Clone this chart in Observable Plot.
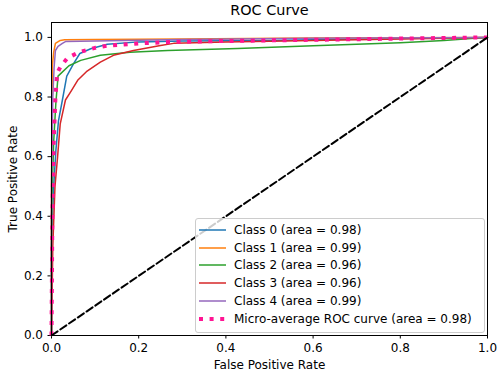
<!DOCTYPE html>
<html>
<head>
<meta charset="utf-8">
<script src="https://cdn.jsdelivr.net/npm/d3@7"></script>
<script src="https://cdn.jsdelivr.net/npm/@observablehq/plot@0.6"></script>
<style>
  html, body { margin: 0; padding: 0; background: #fff; }
  #wrap { position: relative; width: 500px; height: 374px; font-family: "DejaVu Sans", sans-serif; }
  #legend { position: absolute; left: 195px; top: 218px; width: 290px; height: 115px;
    border: 1px solid #cccccc; border-radius: 3px; background: rgba(255,255,255,0.8); box-sizing: border-box; }
  .row { position: absolute; left: 0; height: 16px; display: flex; align-items: center; font-size: 12px; color: #000; white-space: nowrap; }
  .row svg { margin-left: 3px; margin-right: 8px; }
</style>
</head>
<body>
<div id="wrap"></div>
<script>
// ---- data ----
const classNames = ["Class 0", "Class 1", "Class 2", "Class 3", "Class 4"];
const classAreas = [0.98, 0.99, 0.96, 0.96, 0.99];
const classColors = ["#1f77b4", "#ff7f0e", "#2ca02c", "#d62728", "#9467bd"];

const fpr0 = [0, 0, 0.005, 0.01, 0.016, 0.025, 0.035, 0.05, 0.065, 0.09, 0.128, 0.2, 0.3, 0.5, 0.7, 1];
const tpr0 = [0, 0.3, 0.5, 0.62, 0.72, 0.79, 0.87, 0.91, 0.946, 0.962, 0.977, 0.985, 0.988, 0.99, 0.995, 1];

const fpr1 = [0, 0, 0.002, 0.005, 0.009, 0.02, 0.03, 0.1, 0.3, 0.6, 1];
const tpr1 = [0, 0.5, 0.906, 0.95, 0.98, 0.99, 0.992, 0.993, 0.995, 0.998, 1];

const fpr2 = [0, 0, 0.005, 0.01, 0.015, 0.04, 0.067, 0.112, 0.18, 0.266, 0.427, 0.6, 0.8, 0.9, 0.97, 1];
const tpr2 = [0, 0.4, 0.65, 0.78, 0.87, 0.905, 0.923, 0.94, 0.95, 0.956, 0.963, 0.972, 0.982, 0.99, 0.997, 1];

const fpr3 = [0, 0.003, 0.008, 0.014, 0.02, 0.032, 0.045, 0.06, 0.08, 0.112, 0.142, 0.188, 0.25, 0.28, 0.4, 0.6, 0.8, 1];
const tpr3 = [0, 0.3, 0.5, 0.6, 0.71, 0.79, 0.82, 0.856, 0.885, 0.917, 0.94, 0.956, 0.973, 0.98, 0.985, 0.99, 0.995, 1];

const fpr4 = [0, 0, 0.003, 0.006, 0.009, 0.015, 0.025, 0.032, 0.1, 0.3, 0.6, 1];
const tpr4 = [0, 0.5, 0.8, 0.9, 0.956, 0.97, 0.98, 0.986, 0.988, 0.993, 0.997, 1];

const fprMicro = [0, 0.002, 0.005, 0.009, 0.013, 0.02, 0.036, 0.062, 0.1, 0.128, 0.2, 0.28, 0.4, 0.6, 0.8, 1];
const tprMicro = [0, 0.4, 0.65, 0.8, 0.88, 0.9, 0.93, 0.95, 0.965, 0.972, 0.98, 0.985, 0.988, 0.992, 0.996, 1];
const microName = "Micro-average ROC curve";
const microArea = 0.98;

const diagX = [0, 1];
const diagY = [0, 1];

const xTicks = [0, 0.2, 0.4, 0.6, 0.8, 1.0];
const yTicks = [0, 0.2, 0.4, 0.6, 0.8, 1.0];

// ---- build tables ----
const fprs = [fpr0, fpr1, fpr2, fpr3, fpr4];
const tprs = [tpr0, tpr1, tpr2, tpr3, tpr4];
const classRows = [];
classNames.forEach((name, i) => {
  fprs[i].forEach((f, j) => classRows.push({cls: name, fpr: f, tpr: tprs[i][j]}));
});
const microRows = fprMicro.map((f, j) => ({fpr: f, tpr: tprMicro[j]}));
const diagRows = diagX.map((x, j) => ({x, y: diagY[j]}));

const fmt = d3.format(".1f");

const chart = Plot.plot({
  width: 500,
  height: 374,
  marginLeft: 51,
  marginRight: 13,
  marginTop: 22,
  marginBottom: 39,
  style: {fontFamily: "DejaVu Sans, sans-serif", fontSize: "12px", color: "#000", background: "#fff"},
  x: {domain: [0, 1]},
  y: {domain: [0, 1.05]},
  color: {domain: classNames, range: classColors},
  marks: [
    Plot.axisX({ticks: xTicks, tickFormat: fmt, tickSize: 3.5, tickPadding: 4, label: "False Positive Rate",
      labelAnchor: "center", labelArrow: "none", labelOffset: 33, fontSize: 12}),
    Plot.axisY({ticks: yTicks, tickFormat: fmt, tickSize: 3.5, tickPadding: 5, label: "True Positive Rate",
      labelAnchor: "center", labelArrow: "none", labelOffset: 43, fontSize: 12}),
    Plot.line(classRows, {x: "fpr", y: "tpr", z: "cls", stroke: "cls", strokeWidth: 1.5}),
    Plot.line(microRows, {x: "fpr", y: "tpr", stroke: "#ff1493", strokeWidth: 4, strokeDasharray: "4,6.6", strokeLinecap: "butt"}),
    Plot.line(diagRows, {x: "x", y: "y", stroke: "black", strokeWidth: 2, strokeDasharray: "7.4,3.2"}),
    Plot.frame({stroke: "black", strokeWidth: 1}),
    Plot.text(["ROC Curve"], {frameAnchor: "top", lineAnchor: "middle", dy: -12, fontSize: 14.4, fill: "#000"})
  ]
});

const wrap = document.getElementById("wrap");
wrap.appendChild(chart);

// ---- legend ----
const legend = document.createElement("div");
legend.id = "legend";
const items = classNames.map((n, i) => ({label: `${n} (area = ${classAreas[i].toFixed(2)})`, color: classColors[i], micro: false}));
items.push({label: `${microName} (area = ${microArea.toFixed(2)})`, color: "#ff1493", micro: true});
items.forEach((it, i) => {
  const row = document.createElement("div");
  row.className = "row";
  row.style.top = (3 + i * 17.7) + "px";
  const s = d3.create("svg").attr("width", 27).attr("height", 16);
  s.append("line").attr("x1", 0).attr("x2", 27).attr("y1", 8).attr("y2", 8)
    .attr("stroke", it.color)
    .attr("stroke-width", it.micro ? 4 : 1.5)
    .attr("stroke-dasharray", it.micro ? "4,6.6" : null);
  row.appendChild(s.node());
  const t = document.createElement("span");
  t.textContent = it.label;
  row.appendChild(t);
  legend.appendChild(row);
});
wrap.appendChild(legend);
</script>
</body>
</html>
